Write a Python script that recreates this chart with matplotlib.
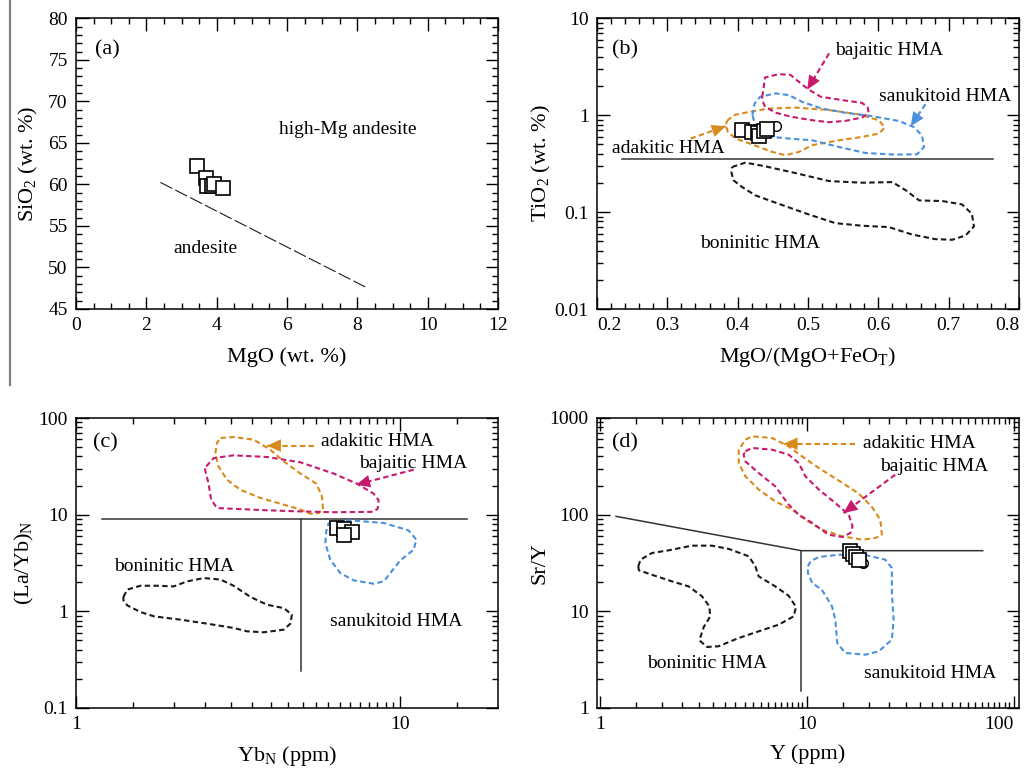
import numpy as np
import matplotlib
matplotlib.use("Agg")
import matplotlib.pyplot as plt
from matplotlib.ticker import MultipleLocator, FixedLocator, LogLocator, NullFormatter
from matplotlib.lines import Line2D

plt.rcParams['font.family'] = ['Liberation Serif', 'DejaVu Serif']
plt.rcParams['mathtext.fontset'] = 'custom'
plt.rcParams['mathtext.rm'] = 'Liberation Serif'
plt.rcParams['mathtext.it'] = 'Liberation Serif:italic'

# ---------------- data ----------------
# (a) MgO vs SiO2
a_mgo = [3.44, 3.71, 3.72, 3.87, 3.91, 4.18]
a_sio2 = [62.2, 60.8, 59.75, 59.75, 60.0, 59.6]
a_line_x = [2.40, 8.23]
a_line_y = [60.24, 47.65]

# (b) Mg# vs TiO2
b_x = [0.406, 0.420, 0.429, 0.430, 0.437, 0.442]
b_y = [0.700, 0.673, 0.656, 0.610, 0.683, 0.728]
b_cx = [0.454]
b_cy = [0.769]
b_hline_x = [0.235, 0.763]
b_hline_y = [0.35, 0.35]
b_baj_x = [0.435, 0.439, 0.458, 0.475, 0.487, 0.501, 0.518, 0.549, 0.577, 0.585, 0.586, 0.577, 0.553, 0.530, 0.506, 0.477, 0.454, 0.439, 0.435]
b_baj_y = [1.55, 2.45, 2.65, 2.61, 2.21, 1.84, 1.55, 1.43, 1.34, 1.20, 1.06, 0.946, 0.873, 0.847, 0.887, 0.961, 1.06, 1.22, 1.43]
b_san_x = [0.421, 0.424, 0.432, 0.454, 0.473, 0.492, 0.520, 0.553, 0.591, 0.629, 0.650, 0.662, 0.665, 0.655, 0.624, 0.582, 0.544, 0.506, 0.473, 0.449, 0.439, 0.425]
b_san_y = [1.0, 1.32, 1.55, 1.68, 1.61, 1.37, 1.17, 1.06, 0.977, 0.873, 0.757, 0.621, 0.470, 0.395, 0.392, 0.407, 0.470, 0.551, 0.574, 0.597, 0.673, 0.789]
b_ada_x = [0.385, 0.394, 0.416, 0.444, 0.482, 0.530, 0.572, 0.601, 0.609, 0.601, 0.577, 0.544, 0.506, 0.487, 0.468, 0.449, 0.420, 0.397, 0.386, 0.383]
b_ada_y = [0.873, 1.0, 1.08, 1.17, 1.20, 1.13, 1.02, 0.887, 0.745, 0.646, 0.597, 0.551, 0.490, 0.418, 0.386, 0.418, 0.501, 0.574, 0.673, 0.789]
b_bon_x = [0.392, 0.411, 0.439, 0.482, 0.530, 0.577, 0.620, 0.639, 0.658, 0.691, 0.719, 0.733, 0.736, 0.724, 0.705, 0.681, 0.648, 0.615, 0.577, 0.539, 0.501, 0.458, 0.425, 0.406, 0.394, 0.391]
b_bon_y = [0.292, 0.324, 0.297, 0.253, 0.209, 0.201, 0.204, 0.168, 0.132, 0.130, 0.120, 0.0961, 0.0711, 0.0574, 0.0518, 0.0526, 0.0587, 0.0700, 0.0723, 0.0769, 0.0946, 0.122, 0.149, 0.182, 0.213, 0.259]

# (c) YbN vs (La/Yb)N
c_x = [6.38, 6.69, 7.10, 6.69]
c_y = [7.28, 7.11, 6.62, 6.11]
c_hline_x = [1.20, 16.05]
c_hline_y = [9.0, 9.0]
c_vline_x = [4.94, 4.94]
c_vline_y = [0.239, 9.0]
c_ada_x = [2.79, 3.06, 3.53, 3.97, 4.37, 4.92, 5.51, 5.73, 5.78, 5.60, 5.28, 4.92, 4.37, 3.70, 3.21, 2.92, 2.75, 2.69, 2.72]
c_ada_y = [62.1, 63.6, 59.7, 47.0, 35.6, 26.6, 20.9, 15.5, 11.3, 10.4, 10.2, 11.3, 12.7, 14.9, 18.1, 23.0, 31.6, 43.4, 55.1]
c_baj_x = [2.52, 2.66, 3.06, 3.88, 4.92, 6.23, 7.35, 8.27, 8.57, 8.51, 8.24, 6.23, 4.92, 3.88, 3.06, 2.72, 2.61, 2.56, 2.50]
c_baj_y = [31.6, 38.5, 41.1, 39.5, 34.8, 26.6, 20.9, 16.5, 14.1, 11.5, 10.7, 10.6, 10.8, 11.1, 11.5, 11.7, 14.3, 21.3, 29.2]
c_san_x = [6.01, 7.01, 8.89, 10.6, 11.2, 11.0, 10.0, 9.31, 8.89, 8.27, 7.18, 6.53, 6.08, 5.87, 5.91]
c_san_y = [8.20, 8.73, 8.20, 6.88, 5.51, 4.35, 3.37, 2.49, 2.04, 1.93, 2.09, 2.49, 3.42, 5.09, 6.73]
c_bon_x = [1.40, 1.44, 1.58, 1.78, 2.00, 2.20, 2.48, 2.79, 3.06, 3.45, 3.88, 4.37, 4.63, 4.58, 4.37, 3.79, 3.37, 3.06, 2.54, 2.10, 1.74, 1.58, 1.44, 1.40]
c_bon_y = [1.41, 1.68, 1.84, 1.84, 1.81, 2.04, 2.21, 2.13, 1.84, 1.41, 1.17, 1.08, 0.925, 0.745, 0.646, 0.607, 0.621, 0.673, 0.745, 0.820, 0.887, 0.984, 1.15, 1.30]

# (d) Y vs Sr/Y
d_x = [16.1, 16.7, 17.2, 17.8]
d_y = [41.8, 38.9, 36.2, 33.7]
d_cx = [18.6]
d_cy = [31.4]
d_bound_x = [1.195, 9.39, 70.6]
d_bound_y = [96.1, 42.4, 42.4]
d_vline_x = [9.39, 9.39]
d_vline_y = [1.49, 42.4]
d_ada_x = [5.04, 5.42, 6.78, 8.15, 9.46, 11.4, 14.2, 17.8, 20.6, 22.6, 23.0, 21.4, 18.5, 14.8, 11.8, 9.82, 8.47, 7.03, 5.84, 5.04, 4.68, 4.68]
d_ada_y = [597, 646, 621, 509, 401, 304, 226, 165, 120, 88.7, 62.1, 57.4, 55.1, 59.7, 70.0, 88.7, 113, 137, 182, 249, 342, 470]
d_baj_x = [5.04, 5.42, 6.78, 8.15, 9.12, 9.82, 11.4, 13.7, 15.9, 16.6, 16.2, 14.8, 12.7, 10.6, 9.12, 8.15, 7.03, 5.84, 5.04, 4.94]
d_baj_y = [452, 490, 470, 418, 342, 249, 182, 132, 100, 75.7, 64.6, 58.7, 62.1, 82.0, 100, 127, 196, 270, 356, 418]
d_san_x = [10.1, 10.4, 11.4, 14.2, 19.1, 23.9, 25.7, 25.7, 26.2, 25.7, 22.2, 19.1, 15.3, 14.0, 13.7, 13.2, 11.8, 10.6, 10.1]
d_san_y = [29.2, 32.9, 36.5, 38.5, 38.3, 34.2, 28.1, 15.5, 8.20, 5.09, 3.85, 3.56, 3.71, 4.70, 8.20, 11.3, 16.7, 19.6, 24.9]
d_bon_x = [1.53, 1.57, 1.78, 2.15, 2.78, 3.47, 4.19, 5.23, 5.63, 5.84, 7.03, 8.15, 8.85, 8.62, 7.30, 5.84, 4.68, 3.74, 3.29, 3.02, 3.17, 3.41, 3.37, 3.11, 2.68, 2.23, 1.78, 1.54]
d_bon_y = [29.2, 34.2, 40.1, 42.8, 47.8, 47.8, 44.2, 37.1, 29.2, 23.0, 18.1, 14.5, 11.1, 8.87, 7.28, 6.21, 5.30, 4.35, 4.28, 5.01, 6.88, 8.87, 11.3, 14.3, 18.1, 20.4, 23.9, 26.6]

# ---------------- styles ----------------
MAG = '#C71A6E'
ORA = '#D98A1C'
BLU = '#4A90DC'
BLK = '#1a1a1a'
FS_TICK = 14
FS_LAB = 16
FS_TXT = 14
DASH = (0, (2.6, 1.6))

W, H = 1025, 772
fig = plt.figure(figsize=(W / 100, H / 100), dpi=100)

def pos(l, t, r, b):
    return [l / W, 1 - b / H, (r - l) / W, (b - t) / H]

axa = fig.add_axes(pos(76, 18.3, 498, 309))
axb = fig.add_axes(pos(597, 18.3, 1019, 309))
axc = fig.add_axes(pos(76, 418, 498, 708))
axd = fig.add_axes(pos(597, 418, 1019, 708))

for ax in (axa, axb, axc, axd):
    for s in ax.spines.values():
        s.set_linewidth(1.1)
    ax.tick_params(which='both', direction='in', top=True, right=True,
                   labelsize=FS_TICK, width=1.0, pad=6)
    ax.tick_params(which='major', length=9)
    ax.tick_params(which='minor', length=4.5)

def closed(ax, x, y, color):
    ax.plot(list(x) + [x[0]], list(y) + [y[0]], color=color, lw=1.5,
            linestyle=DASH, solid_capstyle='round')

def arrow(ax, start, tip, color):
    # dashed shaft
    ax.plot([start[0], tip[0]], [start[1], tip[1]], color=color, lw=1.5, linestyle=DASH)
    # solid filled head only
    ax.annotate('', xy=tip, xytext=start,
                arrowprops=dict(arrowstyle='-|>,head_length=1.0,head_width=0.45',
                                facecolor=color, edgecolor=color, lw=0.01,
                                shrinkA=0, shrinkB=0, mutation_scale=10))

sq = dict(marker='s', ms=9.5, mfc='white', mec='black', mew=1.2, ls='none')
ci = dict(marker='o', ms=7, mfc='white', mec='black', mew=1.0, ls='none')

# ---- (a) ----
axa.set_xlim(0, 12)
axa.set_ylim(45, 80)
axa.xaxis.set_major_locator(MultipleLocator(2))
axa.xaxis.set_minor_locator(MultipleLocator(0.5))
axa.yaxis.set_major_locator(MultipleLocator(5))
axa.yaxis.set_minor_locator(MultipleLocator(1))
axa.plot(a_line_x, a_line_y, color=BLK, lw=0.8, dashes=(12, 3))
axa.plot(a_mgo, a_sio2, **sq)
axa.text(0.55, 76.2, '(a)', fontsize=16, va='center')
axa.text(5.76, 66.6, 'high-Mg andesite', fontsize=FS_TXT, va='center')
axa.text(2.78, 52.3, 'andesite', fontsize=FS_TXT, va='center')
axa.set_xlabel('MgO (wt. %)', fontsize=FS_LAB, labelpad=9)
axa.set_ylabel('SiO$_\\mathrm{2}$ (wt. %)', fontsize=FS_LAB, labelpad=6)

# ---- (b) ----
axb.set_xlim(0.2, 0.8)
axb.set_yscale('log')
axb.set_ylim(0.01, 10)
axb.xaxis.set_minor_locator(MultipleLocator(0.02))
axb.set_yticks([0.01, 0.1, 1, 10])
axb.set_yticklabels(['0.01', '0.1', '1', '10'])
axb.yaxis.set_minor_locator(LogLocator(base=10, subs=np.arange(2, 10)))
axb.yaxis.set_minor_formatter(NullFormatter())
axb.set_xticks([0.2, 0.3, 0.4, 0.5, 0.6, 0.7, 0.8])
axb.set_xticklabels(['0.2', '0.3', '0.4', '0.5', '0.6', '0.7', '0.8'])
axb.get_xticklabels()[-1].set_horizontalalignment('right')
axb.get_xticklabels()[0].set_horizontalalignment('left')
axb.plot(b_hline_x, b_hline_y, color='#333333', lw=1.1)
closed(axb, b_bon_x, b_bon_y, BLK)
closed(axb, b_ada_x, b_ada_y, ORA)
closed(axb, b_san_x, b_san_y, BLU)
closed(axb, b_baj_x, b_baj_y, MAG)
axb.plot(b_cx, b_cy, **ci)
axb.plot(b_x, b_y, **sq)
arrow(axb, (0.530, 4.35), (0.499, 1.84), MAG)
arrow(axb, (0.667, 1.30), (0.646, 0.769), BLU)
arrow(axb, (0.333, 0.574), (0.383, 0.769), ORA)
axb.text(0.221, 4.70, '(b)', fontsize=16, va='center')
axb.text(0.538, 4.70, 'bajaitic HMA', fontsize=FS_TXT, va='center')
axb.text(0.601, 1.55, 'sanukitoid HMA', fontsize=FS_TXT, va='center')
axb.text(0.222, 0.452, 'adakitic HMA', fontsize=FS_TXT, va='center')
axb.text(0.347, 0.047, 'boninitic HMA', fontsize=FS_TXT, va='center')
axb.set_xlabel('MgO/(MgO+FeO$_\\mathrm{T}$)', fontsize=FS_LAB, labelpad=8)
axb.set_ylabel('TiO$_\\mathrm{2}$ (wt. %)', fontsize=FS_LAB, labelpad=1)

# ---- (c) ----
axc.set_xscale('log')
axc.set_yscale('log')
axc.set_xlim(1, 20)
axc.set_ylim(0.1, 100)
axc.set_xticks([1, 10])
axc.set_xticklabels(['1', '10'])
axc.xaxis.set_minor_locator(FixedLocator(list(np.arange(1.5, 10, 0.5)) + [15]))
axc.xaxis.set_minor_formatter(NullFormatter())
axc.set_yticks([0.1, 1, 10, 100])
axc.set_yticklabels(['0.1', '1', '10', '100'])
axc.yaxis.set_minor_locator(LogLocator(base=10, subs=np.arange(2, 10)))
axc.yaxis.set_minor_formatter(NullFormatter())
axc.plot(c_hline_x, c_hline_y, color='#333333', lw=1.1)
axc.plot(c_vline_x, c_vline_y, color='#333333', lw=1.1)
closed(axc, c_bon_x, c_bon_y, BLK)
closed(axc, c_san_x, c_san_y, BLU)
closed(axc, c_ada_x, c_ada_y, ORA)
closed(axc, c_baj_x, c_baj_y, MAG)
axc.plot(c_x, c_y, **sq)
arrow(axc, (5.40, 51.8), (3.88, 51.8), ORA)
arrow(axc, (11.0, 29.2), (7.31, 20.4), MAG)
axc.text(1.13, 55.1, '(c)', fontsize=16, va='center')
axc.text(5.69, 57.4, 'adakitic HMA', fontsize=FS_TXT, va='center')
axc.text(7.44, 34.2, 'bajaitic HMA', fontsize=FS_TXT, va='center')
axc.text(1.31, 2.92, 'boninitic HMA', fontsize=FS_TXT, va='center')
axc.text(6.06, 0.789, 'sanukitoid HMA', fontsize=FS_TXT, va='center')
axc.set_xlabel('Yb$_\\mathrm{N}$ (ppm)', fontsize=FS_LAB, labelpad=8)
axc.set_ylabel('(La/Yb)$_\\mathrm{N}$', fontsize=FS_LAB, labelpad=2)

# ---- (d) ----
axd.set_xscale('log')
axd.set_yscale('log')
axd.set_xlim(0.967, 105.7)
axd.set_ylim(1, 1000)
axd.set_xticks([1, 10, 100])
axd.set_xticklabels(['1', '10', '100'])
axd.get_xticklabels()[-1].set_horizontalalignment('right')
axd.xaxis.set_minor_locator(FixedLocator(list(np.arange(1.5, 10, 0.5)) + list(np.arange(15, 100, 5))))
axd.xaxis.set_minor_formatter(NullFormatter())
axd.set_yticks([1, 10, 100, 1000])
axd.set_yticklabels(['1', '10', '100', '1000'])
axd.yaxis.set_minor_locator(LogLocator(base=10, subs=np.arange(2, 10)))
axd.yaxis.set_minor_formatter(NullFormatter())
axd.plot(d_bound_x, d_bound_y, color='#333333', lw=1.1)
axd.plot(d_vline_x, d_vline_y, color='#333333', lw=1.1)
closed(axd, d_bon_x, d_bon_y, BLK)
closed(axd, d_san_x, d_san_y, BLU)
closed(axd, d_ada_x, d_ada_y, ORA)
closed(axd, d_baj_x, d_baj_y, MAG)
axd.plot(d_cx, d_cy, **ci)
axd.plot(d_x, d_y, **sq)
arrow(axd, (17.1, 542), (7.71, 542), ORA)
arrow(axd, (26.7, 259), (15.0, 104), MAG)
axd.text(1.14, 551, '(d)', fontsize=16, va='center')
axd.text(18.7, 551, 'adakitic HMA', fontsize=FS_TXT, va='center')
axd.text(22.6, 316, 'bajaitic HMA', fontsize=FS_TXT, va='center')
axd.text(1.69, 2.92, 'boninitic HMA', fontsize=FS_TXT, va='center')
axd.text(18.8, 2.26, 'sanukitoid HMA', fontsize=FS_TXT, va='center')
axd.set_xlabel('Y (ppm)', fontsize=FS_LAB, labelpad=8)
axd.set_ylabel('Sr/Y', fontsize=FS_LAB, labelpad=0)

# gray rule at the far left of the top row
fig.add_artist(Line2D([10 / W, 10 / W], [1, 1 - 385 / H], color='#808080', lw=1.6,
                      transform=fig.transFigure))

fig.savefig('out.png', dpi=100)
